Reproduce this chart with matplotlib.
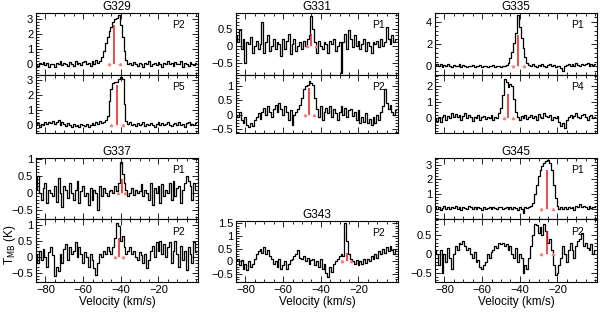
import matplotlib
import matplotlib.pyplot as plt
import numpy as np
from matplotlib.ticker import (MultipleLocator, AutoMinorLocator, FuncFormatter,
                               FixedLocator)

matplotlib.use("Agg")
plt.rcParams["font.family"] = ["Liberation Sans", "DejaVu Sans"]

# velocity channels (km/s), 1 km/s steps from -85 to 0
vel = np.arange(-85, 1, 1)

# ── spectra (K) ─────────────────────────────────────────────────────────────
g329_p2 = [0.05, -0.1, 0.1, 0.0, 0.15, -0.05, 0.1, -0.15, 0.05, 0.0,
           -0.2, 0.1, 0.05, 0.2, -0.05, 0.1, 0.0, -0.1, 0.15, 0.05,
           -0.1, 0.2, 0.0, 0.1, -0.05, 0.15, 0.25, 0.05, 0.1, -0.1,
           0.2, 0.05, 0.3, 0.1, 0.25, 0.5, 0.9, 1.4, 1.8, 2.2,
           2.5, 2.8, 3.0, 3.1, 3.25, 2.6, 1.8, 0.9, 0.3, 0.0,
           0.1, -0.05, 0.15, 0.0, -0.1, 0.1, 0.05, -0.15, 0.1, 0.0,
           0.2, -0.1, 0.05, 0.1, -0.05, 0.15, 0.0, -0.2, 0.1, 0.05,
           0.2, 0.0, 0.1, -0.1, 0.15, 0.05, 0.0, 0.2, -0.15, 0.1,
           0.0, -0.1, 0.15, 0.05, -0.05, 0.1]
g329_p5 = [0.0, 0.15, -0.1, 0.1, 0.05, 0.2, 0.1, 0.25, 0.15, 0.3,
           0.1, 0.2, 0.35, 0.05, 0.2, 0.1, -0.05, 0.15, 0.0, -0.1,
           0.1, -0.05, 0.05, -0.1, 0.1, 0.0, -0.05, 0.1, -0.1, 0.05,
           0.15, 0.0, 0.2, 0.1, 0.3, 0.15, 0.25, 0.35, 0.6, 1.6,
           2.4, 2.8, 2.9, 2.9, 3.1, 3.25, 3.1, 1.4, 0.3, 0.1,
           0.2, 0.0, 0.1, -0.05, 0.15, 0.0, 0.1, 0.2, -0.05, 0.1,
           0.0, 0.15, 0.05, -0.1, 0.1, 0.2, 0.05, 0.15, 0.0, 0.1,
           0.25, 0.05, -0.05, 0.1, 0.15, 0.0, 0.2, 0.05, 0.1, -0.1,
           0.15, 0.25, 0.05, 0.1, 0.0, 0.15]
g331_p1 = [0.3, 0.1, 0.45, -0.1, 0.2, -0.5, 0.1, 0.05, 0.25, -0.2,
           0.0, 0.15, -0.1, 0.05, 0.7, -0.2, 0.1, 0.3, -0.15, 0.0,
           0.2, -0.1, 0.1, 0.05, -0.3, 0.2, -0.1, 0.15, 0.35, -0.25,
           0.05, 0.2, -0.15, 0.0, 0.1, -0.1, 0.15, 0.0, 0.2, 0.3,
           0.85, 0.5, 0.1, -0.2, 0.15, 0.0, -0.1, 0.1, 0.05, -0.2,
           0.15, 0.05, 0.2, -0.15, 0.0, 0.1, -0.8, 0.1, 0.35, -0.1,
           0.45, 0.2, -0.05, 0.3, 0.0, 0.15, -0.1, 0.05, 0.2, -0.15,
           0.1, 0.0, -0.2, 0.1, 0.05, 0.15, -0.05, 0.2, 0.0, 0.1,
           0.55, 0.2, 0.05, 0.3, 0.1, 0.2]
g331_p2 = [0.0, -0.1, 0.1, -0.2, -0.3, -0.1, -0.35, -0.45, -0.3, -0.4,
           -0.2, -0.1, 0.05, -0.15, 0.1, 0.25, 0.0, 0.3, 0.1, -0.1,
           0.2, 0.35, 0.1, 0.4, 0.2, 0.0, 0.3, 0.1, -0.2, 0.15,
           -0.35, 0.0, 0.1, 0.2, 0.35, 0.6, 0.9, 1.0, 1.05, 1.2,
           1.1, 1.05, 0.6, 0.2, -0.1, 0.3, -0.2, 0.1, 0.25, 0.05,
           0.3, -0.1, 0.2, 0.05, -0.2, 0.1, 0.3, 0.0, 0.25, -0.1,
           0.15, 0.2, -0.05, 0.1, -0.2, 0.15, -0.3, -0.1, -0.25, 0.05,
           -0.3, -0.15, -0.35, -0.1, -0.3, 0.0, -0.2, 0.1, 0.3, 0.9,
           0.4, 0.2, 0.35, 0.1, 0.0, 0.15]
g335_p1 = [0.1, 0.2, 0.05, 0.15, -0.05, 0.1, 0.0, 0.15, 0.05, -0.1,
           0.1, 0.05, 0.0, 0.15, -0.05, 0.1, 0.0, -0.1, 0.05, 0.0,
           0.1, -0.05, 0.05, 0.0, 0.1, -0.1, 0.05, 0.0, -0.05, 0.05,
           0.0, 0.1, -0.05, 0.0, 0.05, -0.1, 0.05, 0.0, 0.1, 0.3,
           0.7, 1.3, 2.1, 3.0, 4.6, 3.5, 2.5, 1.6, 0.8, 0.3,
           0.1, 0.0, 0.15, 0.05, -0.1, 0.1, 0.0, 0.15, 0.05, -0.05,
           0.1, 0.15, 0.0, 0.1, -0.1, 0.05, 0.0, -0.2, -0.45, 0.0,
           0.1, 0.2, 0.0, 0.15, 0.05, 0.25, 0.1, 0.0, 0.2, 0.1,
           0.15, 0.3, 0.05, 0.2, 0.1, 0.15]
g335_p4 = [0.0, -0.15, 0.1, -0.2, 0.05, 0.2, -0.1, 0.15, 0.0, 0.3,
           0.1, 0.25, 0.05, 0.2, -0.1, 0.15, 0.3, 0.0, 0.2, 0.1,
           -0.15, 0.1, 0.0, 0.2, -0.1, 0.05, 0.15, -0.05, 0.1, 0.0,
           0.2, -0.1, 0.1, 0.0, 0.3, 0.6, 1.4, 2.4, 2.2, 1.9,
           2.1, 2.0, 1.2, 0.4, 0.1, -0.1, 0.15, 0.0, 0.2, -0.05,
           0.1, 0.2, 0.0, 0.15, -0.1, 0.25, 0.1, 0.0, 0.3, 0.15,
           0.05, 0.2, -0.1, 0.1, 0.0, 0.15, -0.2, -0.5, -0.3, -0.6,
           -0.1, 0.1, 0.2, 0.0, 0.15, 0.3, 0.1, 0.0, 0.2, 0.25,
           0.1, -0.1, 0.15, 0.2, 0.0, 0.1]
g337_p1 = [0.1, 0.5, 0.0, -0.2, 0.15, 0.3, -0.3, 0.1, 0.0, -0.1,
           0.2, -0.25, 0.45, 0.0, -0.4, 0.2, 0.1, -0.15, 0.3, 0.0,
           -0.2, 0.1, 0.35, -0.3, 0.05, 0.2, -0.1, 0.0, -0.35, 0.15,
           -0.2, 0.1, 0.0, -0.5, 0.2, -0.1, 0.15, 0.0, -0.1, 0.05,
           0.1, 0.0, 0.2, 0.05, 0.3, 0.9, 0.55, 0.3, 0.1, -0.1,
           0.0, 0.15, -0.05, 0.1, 0.0, 0.05, 0.25, -0.1, 0.1, 0.0,
           -0.2, 0.3, -0.35, 0.15, 0.0, 0.2, -0.3, 0.25, -0.1, 0.1,
           0.0, 0.3, -0.2, 0.35, -0.1, 0.15, 0.2, -0.3, 0.1, 0.3,
           0.5, 0.35, 0.2, -0.2, 0.3, 0.1]
g337_p2 = [0.1, -0.2, 0.2, -0.1, 0.25, 0.0, -0.3, 0.15, 0.3, 0.05,
           -0.6, -0.3, -0.45, 0.1, -0.2, 0.25, 0.4, -0.1, 0.3, 0.1,
           0.2, 0.45, 0.0, 0.3, 0.1, -0.2, 0.15, 0.0, -0.3, 0.1,
           -0.1, -0.35, -0.55, -0.2, 0.1, 0.0, 0.2, 0.1, 0.3, 0.2,
           0.1, 0.3, 0.6, 1.05, 0.95, 0.5, 0.65, 0.3, 0.1, 0.2,
           0.3, 0.1, 0.2, 0.0, -0.1, 0.15, 0.05, -0.2, 0.1, -0.35,
           -0.1, 0.2, 0.35, 0.0, 0.45, 0.2, 0.5, 0.1, 0.4, 0.0,
           0.3, 0.45, -0.2, 0.2, 0.5, 0.1, -0.3, 0.35, -0.1, 0.2,
           -0.4, 0.3, 0.1, -0.2, 0.45, 0.15]
g343_p2 = [0.0, 0.1, -0.15, 0.05, -0.3, -0.1, -0.35, 0.0, -0.2, -0.1,
           0.1, 0.3, 0.4, 0.5, 0.35, 0.55, 0.3, 0.45, 0.2, 0.1,
           -0.1, 0.0, -0.2, 0.1, -0.3, -0.15, 0.0, -0.3, -0.1, 0.05,
           0.1, 0.2, 0.3, 0.45, 0.15, 0.1, 0.2, 0.0, 0.15, -0.1,
           0.05, 0.1, -0.15, 0.0, -0.2, 0.1, -0.3, -0.1, -0.45, -0.6,
           -0.2, -0.4, -0.1, 0.0, 0.1, 0.2, 0.3, 0.2, 1.5, 0.8,
           0.3, 0.1, 0.0, -0.1, 0.05, -0.15, 0.0, -0.1, 0.1, -0.05,
           0.1, 0.0, 0.2, 0.1, 0.3, 0.15, 0.4, 0.3, 0.5, 0.35,
           0.55, 0.4, 0.6, 0.45, 0.3, 0.5]
g345_p1 = [0.1, 0.0, 0.15, -0.1, 0.05, 0.2, 0.0, 0.1, -0.05, 0.15,
           0.05, 0.2, 0.0, 0.1, -0.1, 0.15, 0.05, 0.0, 0.2, 0.1,
           -0.05, 0.1, 0.0, 0.15, 0.05, -0.1, 0.1, 0.0, 0.05, 0.15,
           0.0, 0.1, 0.05, -0.05, 0.1, 0.15, 0.0, 0.05, 0.1, -0.05,
           0.1, 0.0, 0.15, 0.05, -0.1, 0.1, 0.0, -0.3, 0.1, 0.05,
           0.1, 0.2, 0.4, 1.0, 1.6, 2.2, 2.6, 2.9, 3.1, 3.25,
           3.3, 3.1, 2.6, 1.6, 0.7, 0.2, 0.0, 0.1, -0.05, 0.1,
           0.0, 0.15, 0.05, 0.1, -0.1, 0.2, 0.1, 0.3, 0.15, 0.2,
           0.1, 0.0, 0.2, 0.05, 0.15, 0.1]
g345_p2 = [0.1, 0.0, -0.3, 0.1, -0.5, 0.0, -0.2, 0.15, -0.1, -0.4,
           0.0, 0.2, 0.1, 0.3, 0.25, 0.35, 0.2, 0.1, 0.15, 0.0,
           -0.1, 0.05, -0.2, -0.15, -0.35, -0.4, -0.3, -0.2, 0.0, -0.1,
           0.05, 0.1, 0.2, 0.15, 0.3, 0.25, 0.3, 0.2, 0.25, 0.1,
           0.2, 0.0, -0.1, 0.15, -0.2, 0.0, -0.1, -0.5, -0.3, -0.4,
           -0.1, 0.2, 0.5, 0.8, 0.75, 0.55, 0.7, 0.5, 0.8, 0.6,
           0.3, 0.4, 0.1, -0.3, -0.55, -0.5, -0.3, -0.1, 0.2, 0.0,
           -0.2, 0.1, 0.3, 0.1, -0.1, 0.2, 0.35, 0.4, 0.55, 0.2,
           0.3, 0.15, 0.1, 0.25, 0.0, 0.1]

# panel bookkeeping, same order everywhere
sources = ["G329", "G329", "G331", "G331", "G335", "G335",
           "G337", "G337", "G343", "G345", "G345"]
positions = ["P2", "P5", "P1", "P2", "P1", "P4",
             "P1", "P2", "P2", "P1", "P2"]
spectra = [g329_p2, g329_p5, g331_p1, g331_p2, g335_p1, g335_p4,
           g337_p1, g337_p2, g343_p2, g345_p1, g345_p2]
# red markers: peak velocity, marker height, half width (km/s)
peak_vel = [-43.5, -42.0, -45.0, -46.0, -40.7, -46.0,
            -39.5, -41.0, -26.2, -25.6, -25.6]
peak_height = [2.6, 2.7, 0.35, 0.95, 2.8, 1.5,
               0.4, 0.6, 0.35, 2.6, 0.6]
peak_halfwidth = [3.0, 3.0, 2.5, 2.5, 3.0, 2.5, 2.0, 2.0, 2.5, 3.0, 3.0]
y_limits = [(-0.7, 3.4), (-0.5, 3.35), (-0.85, 0.95), (-0.65, 1.4),
            (-0.8, 4.8), (-0.9, 2.65), (-0.76, 1.02), (-0.78, 1.18),
            (-0.8, 1.58), (-0.7, 3.45), (-0.74, 0.92)]
y_steps = [1, 1, 0.5, 0.5, 2, 1, 0.5, 0.5, 0.5, 1, 0.5]
x_ticks = [-80, -60, -40, -20]

# ── layout in pixels (left, top, bottom) ────────────────────────────────────
W, H = 600, 314
AX_W = 162
boxes = [(36, 13, 75), (36, 75, 133), (236, 13, 75), (236, 75, 133),
         (435, 13, 75), (435, 75, 133), (36, 158, 219), (36, 219, 282),
         (236, 221, 282), (435, 158, 219), (435, 219, 282)]
bottom_row = {7, 8, 10}
titled = {0, 2, 4, 6, 8, 9}

fmt = FuncFormatter(lambda v, _: f"{v:g}".replace("-", "\u2212"))

fig = plt.figure(figsize=(W / 100, H / 100), dpi=100)

for i, spec in enumerate(spectra):
    left, top, bottom = boxes[i]
    ax = fig.add_axes([left / W, 1 - bottom / H, AX_W / W, (bottom - top) / H])

    ax.step(vel, spec, where="mid", color="black", linewidth=0.9)

    # red velocity marker with small end marks at the baseline
    v0, h, dv = peak_vel[i], peak_height[i], peak_halfwidth[i]
    ax.vlines(v0, 0, h, color="#e41a1c", linewidth=1.1, zorder=3)
    ax.plot([v0 - dv, v0 + dv], [0, 0], color="#f4a0a0", linewidth=0.4,
            linestyle=":", zorder=3)
    ax.plot([v0 - dv, v0 + dv], [0, 0], linestyle="none", marker="^",
            markersize=1.6, color="#f08080", zorder=3)

    ax.set_xlim(-85, 1)
    ax.set_ylim(*y_limits[i])
    ax.xaxis.set_major_locator(FixedLocator(x_ticks))
    ax.xaxis.set_minor_locator(MultipleLocator(5))
    ax.yaxis.set_major_locator(MultipleLocator(y_steps[i]))
    ax.yaxis.set_minor_locator(AutoMinorLocator(5))
    ax.yaxis.set_major_formatter(fmt)
    ax.xaxis.set_major_formatter(fmt)
    ax.tick_params(which="both", direction="in", top=True, right=True,
                   width=0.6, labelsize=8, pad=2)
    ax.tick_params(which="major", length=4)
    ax.tick_params(which="minor", length=2)
    for sp in ax.spines.values():
        sp.set_linewidth(0.8)

    if i in bottom_row:
        ax.set_xlabel("Velocity (km/s)", fontsize=8.5, labelpad=1)
    else:
        ax.tick_params(labelbottom=False)

    if i in titled:
        ax.set_title(sources[i], fontsize=8.5, pad=2)

    ax.text(0.88, 0.8, positions[i], transform=ax.transAxes,
            ha="center", va="center", fontsize=7.5)

fig.text(10 / W, 1 - 245 / H, r"T$_{\rm MB}$ (K)", rotation=90,
         ha="center", va="center", fontsize=8.5)

fig.savefig("out.png", dpi=100)
